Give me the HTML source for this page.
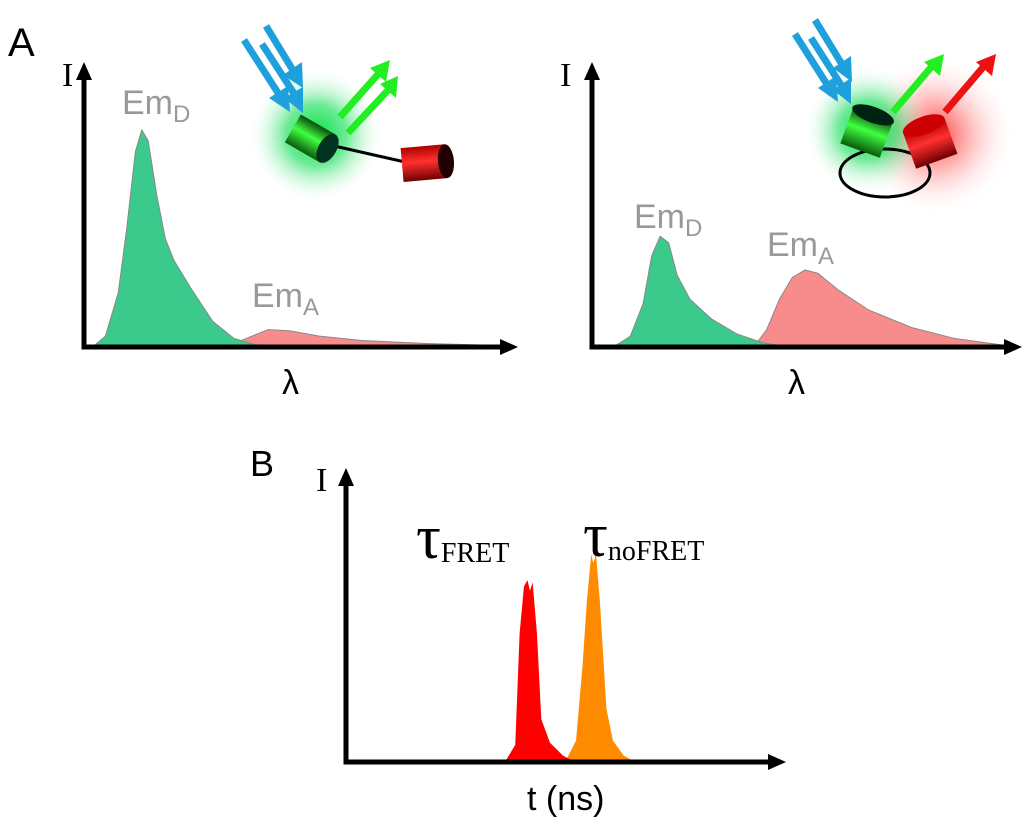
<!DOCTYPE html>
<html><head><meta charset="utf-8"><style>
html,body{margin:0;padding:0;background:#fff;}
svg{display:block;font-family:"Liberation Sans",sans-serif;}
</style></head><body>
<svg id="fig" width="1024" height="826" viewBox="0 0 1024 826">
<defs>
<radialGradient id="gglow"><stop offset="0" stop-color="#00e040" stop-opacity="1"/><stop offset="0.45" stop-color="#20e060" stop-opacity="0.65"/><stop offset="1" stop-color="#ffffff" stop-opacity="0"/></radialGradient>
<radialGradient id="rglow"><stop offset="0" stop-color="#ff2020" stop-opacity="0.9"/><stop offset="0.4" stop-color="#ff6060" stop-opacity="0.5"/><stop offset="1" stop-color="#ffffff" stop-opacity="0"/></radialGradient>
<linearGradient id="gcyl" x1="0" y1="0" x2="0" y2="1"><stop offset="0" stop-color="#0a4a0a"/><stop offset="0.45" stop-color="#40ff40"/><stop offset="1" stop-color="#0a5a0a"/></linearGradient>
<linearGradient id="rcyl" x1="0" y1="0" x2="0" y2="1"><stop offset="0" stop-color="#b00000"/><stop offset="0.45" stop-color="#ff3030"/><stop offset="1" stop-color="#700000"/></linearGradient>
<marker id="ah" markerWidth="18" markerHeight="16" refX="4" refY="8" orient="auto" markerUnits="userSpaceOnUse"><path d="M0,0 L18,8 L0,16 Z" fill="#000"/></marker>
</defs>
<g id="plots"></g>
<g id="labels" font-size="36">
<text x="8" y="56" font-size="40">A</text>
<text x="250" y="476" font-size="36">B</text>
<text x="62" y="86" font-family="Liberation Serif,serif" font-size="34">I</text>
<text x="560" y="86" font-family="Liberation Serif,serif" font-size="34">I</text>
<text x="316" y="491" font-family="Liberation Serif,serif" font-size="34">I</text>
<text x="282" y="394" font-size="34">λ</text>
<text x="788" y="394" font-size="34">λ</text>
<text x="527" y="810" font-size="34">t (ns)</text>
<text x="122" y="114" fill="#999" font-size="34">Em<tspan font-size="24" dy="8">D</tspan></text>
<text x="252" y="307" fill="#999" font-size="34">Em<tspan font-size="24" dy="8">A</tspan></text>
<text x="634" y="228" fill="#999" font-size="34">Em<tspan font-size="24" dy="8">D</tspan></text>
<text x="767" y="256" fill="#999" font-size="34">Em<tspan font-size="24" dy="8">A</tspan></text>
<text x="416" y="558" font-family="Liberation Serif,serif" font-size="62">τ<tspan font-size="28" dy="4">FRET</tspan></text>
<text x="583" y="556" font-family="Liberation Serif,serif" font-size="62">τ<tspan font-size="28" dy="4">noFRET</tspan></text>
</g>
<g id="mol-left">
<circle cx="316" cy="135" r="68" fill="url(#gglow)"/>
<g stroke="#1ea0dc" stroke-width="7" fill="none">
<line x1="244" y1="40" x2="280" y2="96"/><line x1="262" y1="44" x2="295" y2="95"/><line x1="266" y1="26" x2="294" y2="72"/>
</g>
<g fill="#1ea0dc"><path d="M269,98 L290,112 L288,86Z"/><path d="M284,98 L303,113 L303,87Z"/><path d="M283,75 L303,88 L302,62Z"/></g>
<g stroke="#22ee22" stroke-width="7"><line x1="340" y1="117" x2="380" y2="72"/><line x1="348" y1="133" x2="390" y2="88"/></g>
<g fill="#22ee22"><path d="M370,68 L390,60 L386,82Z"/><path d="M380,84 L398,76 L396,98Z"/></g>
<line x1="330" y1="145" x2="405" y2="162" stroke="#000" stroke-width="3"/>
<g transform="rotate(30 315 140)"><rect x="290" y="125" width="40" height="32" fill="url(#gcyl)"/><ellipse cx="330" cy="141" rx="9" ry="16" fill="#032"/></g>
<g transform="rotate(-5 425 163)"><rect x="402" y="146" width="44" height="34" fill="url(#rcyl)"/><ellipse cx="446" cy="163" rx="8" ry="17" fill="#200"/></g>
</g>
<g id="mol-right">
<circle cx="935" cy="135" r="80" fill="url(#rglow)"/>
<circle cx="868" cy="130" r="65" fill="url(#gglow)"/>
<g stroke="#1ea0dc" stroke-width="7"><line x1="795" y1="34" x2="828" y2="86"/><line x1="811" y1="38" x2="843" y2="88"/><line x1="815" y1="20" x2="843" y2="66"/></g>
<g fill="#1ea0dc"><path d="M818,88 L838,102 L836,76Z"/><path d="M833,90 L851,104 L851,78Z"/><path d="M833,68 L852,82 L851,56Z"/></g>
<line x1="893" y1="112" x2="933" y2="65" stroke="#22ee22" stroke-width="7"/><path d="M924,62 L944,54 L940,76Z" fill="#22ee22"/>
<line x1="945" y1="112" x2="985" y2="65" stroke="#ee1111" stroke-width="7"/><path d="M976,62 L996,54 L992,76Z" fill="#ee1111"/>
<ellipse cx="885" cy="173" rx="45" ry="24" fill="none" stroke="#000" stroke-width="3"/>
<g transform="rotate(20 870 135)"><rect x="845" y="115" width="42" height="38" fill="url(#gcyl)"/><ellipse cx="866" cy="115" rx="22" ry="8" fill="#021"/></g>
<g transform="rotate(-20 928 140)"><rect x="907" y="125" width="44" height="38" fill="url(#rcyl)"/><ellipse cx="929" cy="125" rx="22" ry="9" fill="#c00"/></g>
</g>
</svg>
<script>
// Panel A left (no FRET) spectra, x domain 0-100, y domain 0-100
const leftDonorX = [2,5,8,10,12,13.5,15,17,19,21,25,30,35,42];
const leftDonorY = [0,5,25,55,90,100,95,70,50,40,27,12,4,0];
const leftAcceptorX = [33,38,43,48,55,65,80,95,100];
const leftAcceptorY = [0,4,8,7.5,5,3,1.6,0.8,0.5];
// Panel A right (FRET)
const rightDonorX = [5,9,12,14,16,18,20,23,28,34,40,46];
const rightDonorY = [0,5,20,42,51,48,33,22,13,6,2,0];
const rightAcceptorX = [38,41,44,47,50,53,58,65,75,85,96];
const rightAcceptorY = [0,8,22,32,35.5,34,26,17,9,4,1];
// Panel B lifetime peaks, x domain 0-100, y domain 0-100
const fretX = [36.6,39,40,41,41.8,42.4,43,44,45,47,50,52.8];
const fretY = [0,8,60,82,85,80,84,60,20,9,3,0];
const nofretX = [50.5,53,54.5,55.5,56.5,57,57.6,58.5,60,61.5,64,66.6];
const nofretY = [0,10,45,75,97,93,97,75,25,10,3,0];

const NS='http://www.w3.org/2000/svg';
const g=document.getElementById('plots');
function mk(t,a){const e=document.createElementNS(NS,t);for(const k in a)e.setAttribute(k,a[k]);g.appendChild(e);return e;}
function scales(x0,x1,yb,ytop){return {sx:v=>x0+(x1-x0)*v/100, sy:v=>yb-(yb-ytop)*v/100};}
function area(xs,ys,s,fill,name){
  let d='M'+s.sx(xs[0])+','+s.sy(0);
  xs.forEach((x,i)=>{d+=' L'+s.sx(x)+','+s.sy(ys[i]);});
  d+=' L'+s.sx(xs[xs.length-1])+','+s.sy(0)+'Z';
  const p=mk('path',{d:d,fill:fill,stroke:fill==='#ff0000'||fill==='#ff8c00'?'none':'#888','stroke-width':1});
  
  
}
function axes(x,yb,ytop,xr,name){
  const a=mk('line',{x1:x,y1:yb,x2:x,y2:ytop+14,stroke:'#000','stroke-width':5,'marker-end':'url(#ah)'});
  
  
  const b=mk('line',{x1:x-2.5,y1:yb,x2:xr-14,y2:yb,stroke:'#000','stroke-width':5,'marker-end':'url(#ah)'});
  
  
}
const sL=scales(84,512,347,130);
area(leftAcceptorX,leftAcceptorY,sL,'#f88c8c','left-acceptor-emission');
area(leftDonorX,leftDonorY,sL,'#3cc98c','left-donor-emission');
axes(84,347,62,518,'left');
const sR=scales(592,1018,347,130);
area(rightAcceptorX,rightAcceptorY,sR,'#f88c8c','right-acceptor-emission');
area(rightDonorX,rightDonorY,sR,'#3cc98c','right-donor-emission');
axes(592,347,62,1022,'right');
const sB=scales(346,780,762,548);
area(nofretX,nofretY,sB,'#ff8c00','nofret-lifetime-peak');
area(fretX,fretY,sB,'#ff0000','fret-lifetime-peak');
axes(346,762,468,786,'b');
</script>
</body></html>
